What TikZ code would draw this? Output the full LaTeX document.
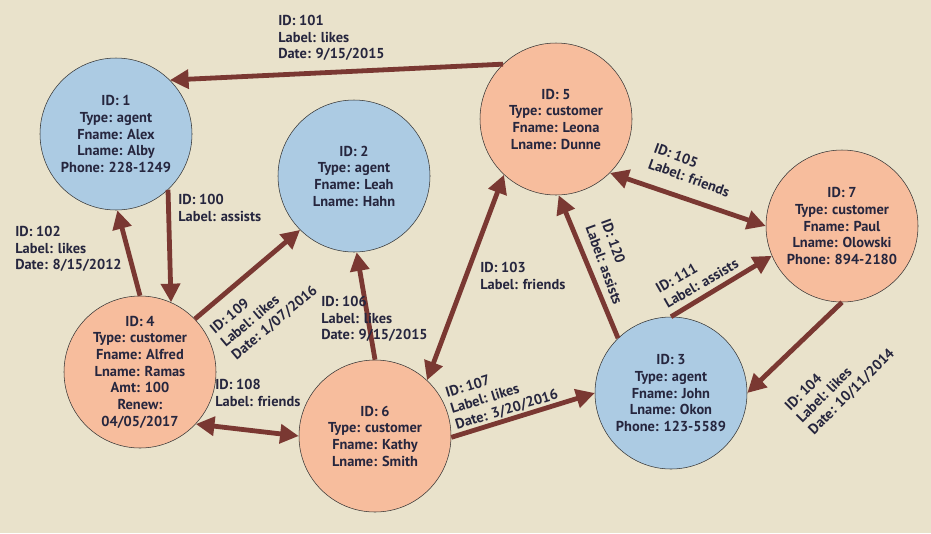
\documentclass[tikz,border=0pt]{standalone}
\usepackage{fontspec}
\setmainfont{PT Sans}
\usetikzlibrary{arrows.meta}
\definecolor{bgcol}{RGB}{233,226,203}
\definecolor{agentcol}{RGB}{172,203,227}
\definecolor{custcol}{RGB}{247,189,157}
\definecolor{edgecol}{RGB}{122,56,50}
\definecolor{txtcol}{RGB}{38,38,62}

\tikzset{
	vertex/.style={circle,draw=black!80,thin,minimum size=114pt,inner sep=0pt,
		align=center,font=\bfseries\fontsize{10.8}{12.5}\selectfont,text=txtcol},
	agent/.style={vertex,fill=agentcol},
	customer/.style={vertex,fill=custcol},
	link/.style={draw=edgecol,line width=3.6pt,-{Triangle[length=14pt,width=14pt]}},
	both/.style={link,{Triangle[length=14pt,width=14pt]}-{Triangle[length=14pt,width=14pt]}},
	tag/.style={align=left,font=\bfseries\fontsize{10.8}{12.5}\selectfont,text=txtcol,inner sep=0pt}
}

\begin{document}
\begin{tikzpicture}[x=0.75pt,y=-0.75pt]
	\fill[bgcol] (0,0) rectangle (931,533);
	\useasboundingbox (0,0) rectangle (931,533);
	% vertices
	\node[agent] (n1) at (116,134) {ID: 1\\Type: agent\\Fname: Alex\\Lname: Alby\\Phone: 228-1249};
	\node[agent] (n2) at (354,176) {ID: 2\\Type: agent\\Fname: Leah\\Lname: Hahn};
	\node[agent] (n3) at (671,393) {ID: 3\\Type: agent\\Fname: John\\Lname: Okon\\Phone: 123-5589};
	\node[customer] (n4) at (140,372) {ID: 4\\Type: customer\\Fname: Alfred\\Lname: Ramas\\Amt: 100\\Renew:\\04/05/2017};
	\node[customer] (n5) at (556,119) {ID: 5\\Type: customer\\Fname: Leona\\Lname: Dunne};
	\node[customer] (n6) at (375,436) {ID: 6\\Type: customer\\Fname: Kathy\\Lname: Smith};
	\node[customer] (n7) at (842,226) {ID: 7\\Type: customer\\Fname: Paul\\Lname: Olowski\\Phone: 894-2180};
	% edges
	\draw[link] (n5.134) -- (n1.45);
	\draw[link] (n1.-47) -- (n4.66);
	\draw[link] (n4.90) -- (n1.-89);
	\draw[link] (n4.44) -- (n2.-135);
	\draw[link] (n6.90) -- (n2.-88);
	\draw[both] (n5.-133) -- (n6.47);
	\draw[both] (n4.-43) -- (n6.180);
	\draw[link] (n6.-1) -- (n3.180);
	\draw[link] (n3.134) -- (n5.-88);
	\draw[both] (n5.-45) -- (n7.180);
	\draw[link] (n3.90) -- (n7.-157);
	\draw[link] (n7.-90) -- (n3.0);
	% edge labels
	\node[tag,anchor=north west] (e101) at (278,15) {ID: 101\\Label: likes\\Date: 9/15/2015};
	\node[tag,anchor=north west] (e100) at (178,194) {ID: 100\\Label: assists};
	\node[tag,anchor=north west] (e102) at (15,226) {ID: 102\\Label: likes\\Date: 8/15/2012};
	\node[tag,anchor=north west] (e106) at (321,296) {ID: 106\\Label: likes\\Date: 9/15/2015};
	\node[tag,anchor=north west] (e103) at (480,262) {ID: 103\\Label: friends};
	\node[tag,anchor=north west] (e108) at (215,379) {ID: 108\\Label: friends};
	\node[tag,rotate=40] (e109) at (264,310) {ID: 109\\Label: likes\\Date: 1/07/2016};
	\node[tag,rotate=17] (e107) at (502,394) {ID: 107\\Label: likes\\Date: 3/20/2016};
	\node[tag,rotate=-70] (e120) at (612,262) {ID: 120\\Label: assists};
	\node[tag,rotate=-20] (e105) at (692,170) {ID: 105\\Label: friends};
	\node[tag,rotate=30] (e111) at (697,276) {ID: 111\\Label: assists};
	\node[tag,rotate=45] (e104) at (840,380) {ID: 104\\Label: likes\\Date: 10/11/2014};
\end{tikzpicture}
\end{document}
